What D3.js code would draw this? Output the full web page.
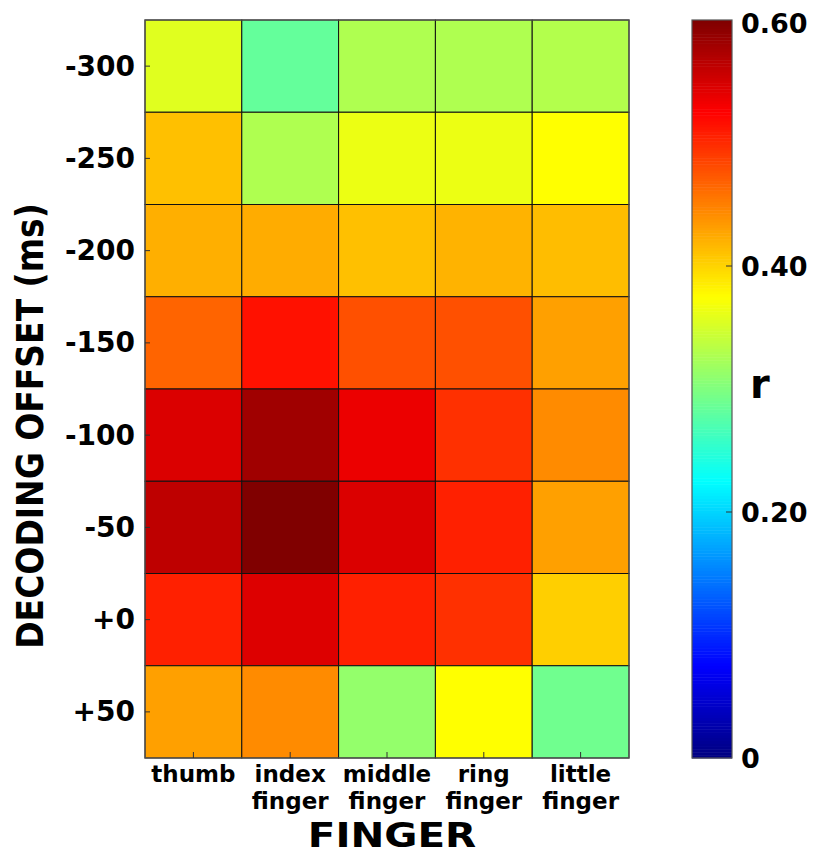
<!DOCTYPE html>
<html>
<head>
<meta charset="utf-8">
<script src="https://cdn.jsdelivr.net/npm/d3@7"></script>
<style>
  body { margin: 0; background: #fff; }
  text { font-family: "DejaVu Sans", Verdana, sans-serif; font-weight: bold; fill: #000; }
</style>
</head>
<body>
<svg id="chart"></svg>
<script>
// fingers along x, decoding offsets down y
var fingers = [["thumb"], ["index", "finger"], ["middle", "finger"], ["ring", "finger"], ["little", "finger"]];
var offsets = ["-300", "-250", "-200", "-150", "-100", "-50", "+0", "+50"];

// correlation r, one row per offset, one value per finger
var r_m300 = [0.357, 0.284, 0.328, 0.328, 0.330];
var r_m250 = [0.412, 0.328, 0.364, 0.364, 0.375];
var r_m200 = [0.422, 0.424, 0.412, 0.420, 0.414];
var r_m150 = [0.466, 0.515, 0.478, 0.478, 0.431];
var r_m100 = [0.546, 0.581, 0.536, 0.497, 0.443];
var r_m50  = [0.563, 0.600, 0.546, 0.506, 0.431];
var r_0    = [0.506, 0.545, 0.506, 0.497, 0.403];
var r_p50  = [0.431, 0.443, 0.312, 0.375, 0.291];
var rows = [r_m300, r_m250, r_m200, r_m150, r_m100, r_m50, r_0, r_p50];

var cbTicks = [0, 0.2, 0.4, 0.6];
var cbLabels = ["0", "0.20", "0.40", "0.60"];

var svgWidth = 814, svgHeight = 856;
var plot = { left: 145, top: 20, right: 629, bottom: 758 };

var svg = d3.select("#chart")
  .attr("width", svgWidth)
  .attr("height", svgHeight);

// matlab style jet
function jet(t) {
  function c(v) { return Math.max(0, Math.min(1, v)) * 255; }
  return d3.rgb(c(Math.min(4*t - 1.5, -4*t + 4.5)),
                c(Math.min(4*t - 0.5, -4*t + 3.5)),
                c(Math.min(4*t + 0.5, -4*t + 2.5)));
}
var color = d3.scaleSequential(jet).domain([0, 0.6]);

var x = d3.scaleBand().domain(d3.range(fingers.length)).range([plot.left, plot.right]);
var y = d3.scaleBand().domain(offsets).range([plot.top, plot.bottom]);

var cells = [];
rows.forEach(function(row, i) {
  row.forEach(function(v, j) { cells.push({ off: offsets[i], f: j, v: v }); });
});

svg.append("g").selectAll("rect")
  .data(cells)
  .enter().append("rect")
  .attr("x", function(d) { return x(d.f); })
  .attr("y", function(d) { return y(d.off); })
  .attr("width", x.bandwidth())
  .attr("height", y.bandwidth())
  .attr("fill", function(d) { return color(d.v); })
  .attr("stroke", "#111")
  .attr("stroke-width", 1);

// outer frame
svg.append("rect")
  .attr("x", plot.left).attr("y", plot.top)
  .attr("width", plot.right - plot.left).attr("height", plot.bottom - plot.top)
  .attr("fill", "none").attr("stroke", "#555").attr("stroke-width", 1.2);

// y ticks (inside) and labels
var yTicks = svg.append("g");
offsets.forEach(function(o) {
  var cy = y(o) + y.bandwidth() / 2;
  yTicks.append("line")
    .attr("x1", plot.left).attr("x2", plot.left + 5)
    .attr("y1", cy).attr("y2", cy)
    .attr("stroke", "#333");
  yTicks.append("text")
    .attr("x", 135).attr("y", cy)
    .attr("text-anchor", "end")
    .attr("dominant-baseline", "central")
    .style("font-size", "28px")
    .text(o);
});

// x ticks (inside) and two-line labels
var xTicks = svg.append("g");
fingers.forEach(function(f, j) {
  var cx = x(j) + x.bandwidth() / 2;
  xTicks.append("line")
    .attr("x1", cx).attr("x2", cx)
    .attr("y1", plot.bottom).attr("y2", plot.bottom - 6)
    .attr("stroke", "#333");
  var t = xTicks.append("text")
    .attr("x", cx).attr("y", 782)
    .attr("text-anchor", "middle")
    .style("font-size", "23px");
  f.forEach(function(line, k) {
    t.append("tspan").attr("x", cx).attr("y", 782 + k * 27).text(line);
  });
});

svg.append("text")
  .attr("transform", "translate(392,847) scale(1.19,1)")
  .attr("text-anchor", "middle")
  .style("font-size", "34px")
  .text("FINGER");

svg.append("text")
  .attr("transform", "translate(43,426) rotate(-90) scale(1,1.15)")
  .attr("text-anchor", "middle")
  .style("font-size", "33px")
  .text("DECODING OFFSET (ms)");

// colorbar
var cb = { left: 692, right: 732, top: 20, bottom: 758 };
var cy = d3.scaleLinear().domain([0, 0.6]).range([cb.bottom, cb.top]);
var n = 256;
svg.append("g").selectAll("rect")
  .data(d3.range(n))
  .enter().append("rect")
  .attr("x", cb.left)
  .attr("y", function(i) { return cy(0.6 * (i + 1) / n); })
  .attr("width", cb.right - cb.left)
  .attr("height", function(i) { return cy(0.6 * i / n) - cy(0.6 * (i + 1) / n) + 0.5; })
  .attr("fill", function(i) { return color(0.6 * (i + 0.5) / n); });

svg.append("rect")
  .attr("x", cb.left).attr("y", cb.top)
  .attr("width", cb.right - cb.left).attr("height", cb.bottom - cb.top)
  .attr("fill", "none").attr("stroke", "#555").attr("stroke-width", 1.2);

var cbAxis = svg.append("g");
cbTicks.forEach(function(v, i) {
  var ty = cy(v);
  if (v > 0 && v < 0.6) {
    cbAxis.append("line")
      .attr("x1", cb.right - 6).attr("x2", cb.right)
      .attr("y1", ty).attr("y2", ty)
      .attr("stroke", "#333");
  }
  cbAxis.append("text")
    .attr("x", 741)
    .attr("y", v == 0.6 ? ty + 3 : ty)
    .attr("dominant-baseline", "central")
    .style("font-size", "27px")
    .text(cbLabels[i]);
});

svg.append("text")
  .attr("x", 750).attr("y", 398)
  .style("font-size", "40px")
  .text("r");
</script>
</body>
</html>
